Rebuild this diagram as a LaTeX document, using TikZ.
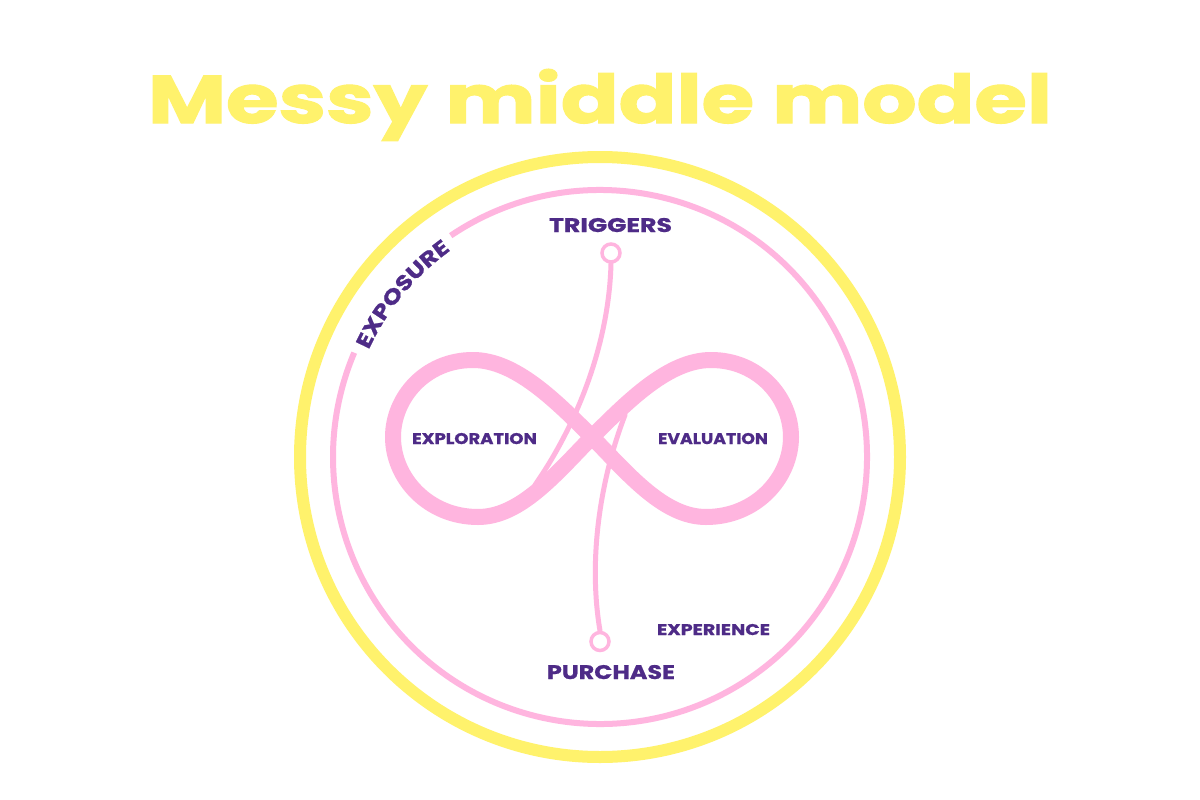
\documentclass[tikz,border=0pt]{standalone}
\usepackage{fontspec}
\usepackage{graphicx}
\setmainfont{Poppins}
\newfontfamily\labfont[FakeStretch=1.2,FakeBold=1]{Poppins}
\newfontfamily\titlefont[FakeBold=1.5]{Poppins}
\usetikzlibrary{decorations.text}
\definecolor{myyellow}{HTML}{FFF26C}
\definecolor{mypink}{HTML}{FFB5DF}
\definecolor{mypurple}{HTML}{4E2B87}
\tikzset{
  lab/.style={inner sep=0pt, anchor=base, text=mypurple},
  band/.style={draw=mypink, line width=16pt, line join=round},
  thinline/.style={draw=mypink, line width=5pt, line cap=round},
  dotnode/.style={circle, draw=mypink, fill=white, line width=3.5pt, inner sep=0pt, minimum size=18pt},
}
\begin{document}
\begin{tikzpicture}[x=1pt,y=-1pt]
\useasboundingbox[fill=white] (0,0) rectangle (1200,800);
\coordinate (c) at (600,457);
% title
\node[inner sep=0pt, anchor=base, text=myyellow] (title) at (600,123)
  {\resizebox{904pt}{54pt}{\titlefont\bfseries Messy middle model}};
% outer yellow ring
\draw[myyellow, line width=12pt] (c) circle[radius=300];
% pink ring with gap
\draw[mypink, line width=6pt] (c) ++(-124:267) arc[start angle=-124, end angle=203, radius=267];
% exposure text along arc
\path[decorate, decoration={text along path, text align=center, text color=mypurple,
  text={|\labfont\bfseries\fontsize{21}{21}\selectfont|EXPOSURE}}]
  (c) ++(-157:255) arc[start angle=-157, end angle=-124, radius=255];
% infinity band
\coordinate (x) at (592,437);
\draw[band] (x) .. controls (555,400) and (515,360) .. (473,360)
  .. controls (425,360) and (393,398) .. (393,437)
  .. controls (393,478) and (428,517) .. (478,517)
  .. controls (520,517) and (555,475) .. (x)
  .. controls (629,400) and (669,360) .. (711,360)
  .. controls (759,360) and (791,398) .. (791,437)
  .. controls (791,478) and (756,517) .. (706,517)
  .. controls (664,517) and (629,475) .. (x) -- cycle;
% small circles
\node[dotnode] (tc) at (611,253) {};
\node[dotnode] (pc) at (600,641.5) {};
\coordinate (tend) at (535,485);
\coordinate (pend) at (625,415);
\draw[thinline] (tc.south) .. controls (609,340) and (580,420) .. (tend);
\draw[thinline] (pc.north) .. controls (588,560) and (600,480) .. (pend);
% labels
\node[lab] (trig) at (610.5,232) {\resizebox{123pt}{14pt}{\labfont\bfseries TRIGGERS}};
\node[lab] (purch) at (611,679) {\resizebox{128pt}{14pt}{\labfont\bfseries PURCHASE}};
\node[lab] (exper) at (713.5,635) {\resizebox{113pt}{11pt}{\labfont\bfseries EXPERIENCE}};
\node[lab] (explo) at (474.5,444) {\resizebox{125pt}{11pt}{\labfont\bfseries EXPLORATION}};
\node[lab] (evalu) at (713,444) {\resizebox{110pt}{11pt}{\labfont\bfseries EVALUATION}};
\end{tikzpicture}
\end{document}
